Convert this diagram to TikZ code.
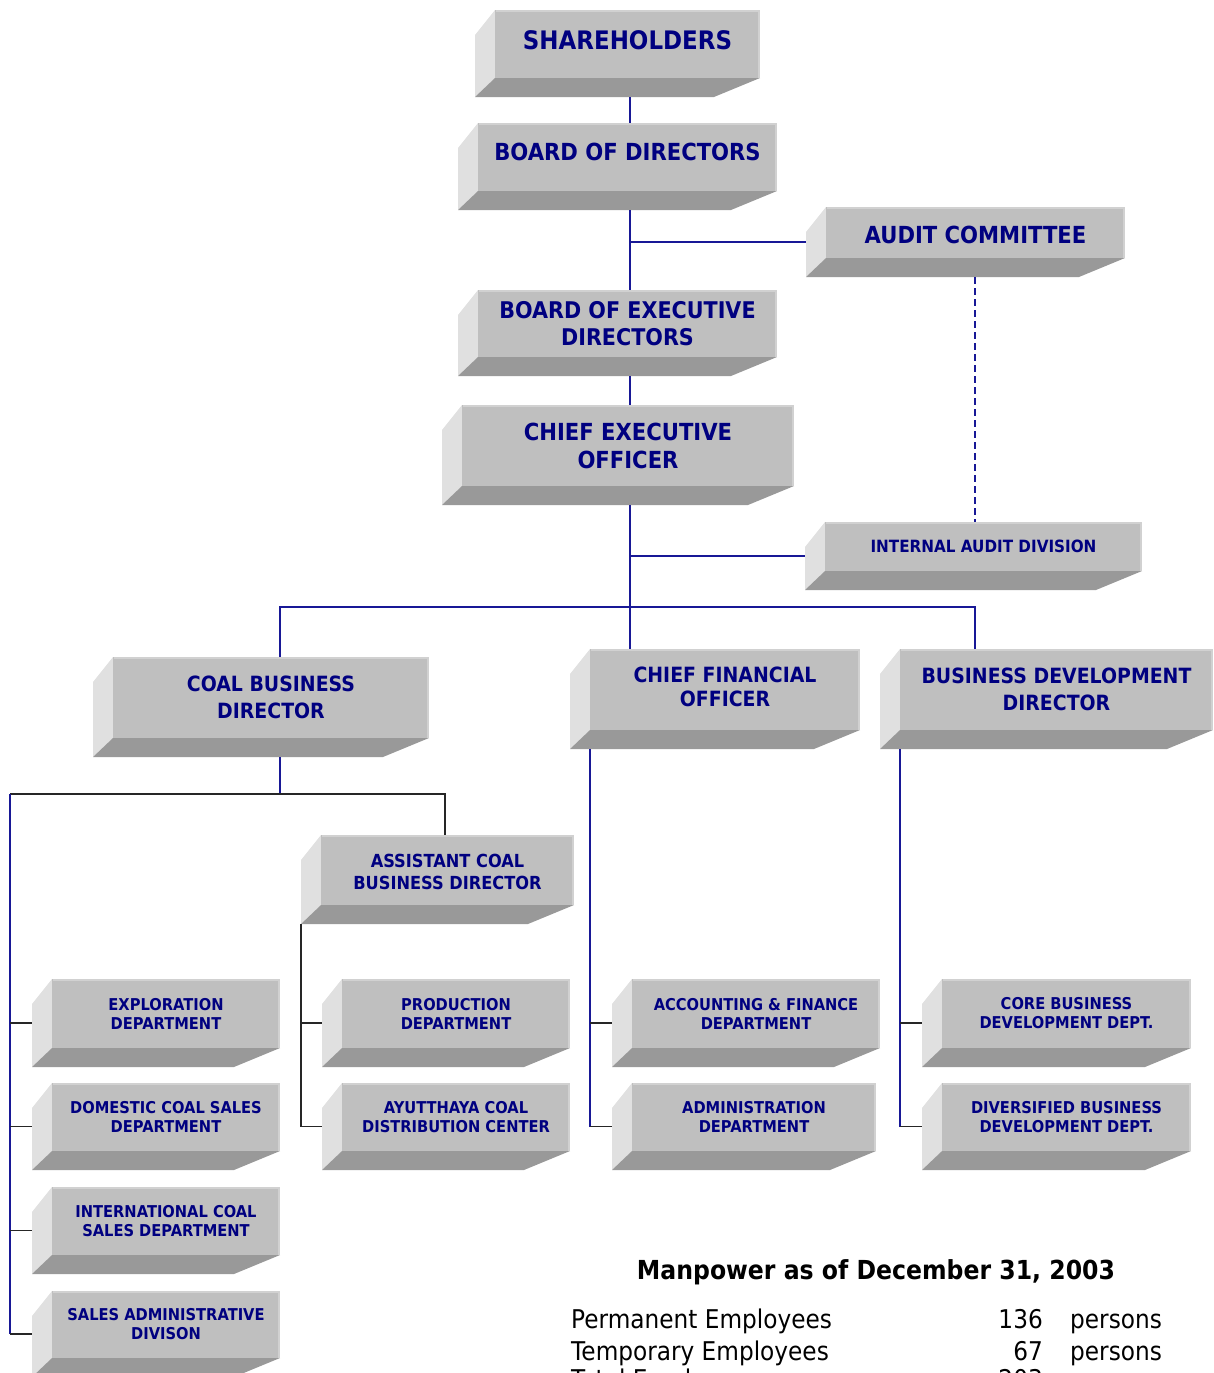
\documentclass[tikz,border=0pt]{standalone}
\usepackage{fontspec}
\setmainfont{DejaVu Sans}[FakeStretch=0.9]
\usetikzlibrary{positioning}

\definecolor{boxnavy}{RGB}{0,0,128}
\definecolor{linenavy}{RGB}{24,24,150}

\tikzset{
	frontface/.style = {fill = black!25},
	sideface/.style = {fill = black!12},
	baseface/.style = {fill = black!40},
	rimline/.style = {draw = black!18, line width = 1.5pt},
	boxarea/.style = {inner sep = 0, outer sep = 0},
	boxtext/.style = {text = boxnavy, align = center, inner sep = 0, font = \bfseries},
	blueline/.style = {draw = linenavy, line width = 1.8pt},
	blackline/.style = {draw = black!85, line width = 1.8pt},
	countline/.style = {font = \fontsize{25.8}{30}\selectfont, inner sep = 0},
}

% 3d box: name, left, top, right, bottom of the front face, text
\newcommand{\orgbox}[7][]{%
	\fill[sideface] (#3,#4) -- (#3-20,#4+25) -- (#3-20,#6+19) -- (#3,#6) -- cycle;
	\fill[baseface] (#3,#6) -- (#3-20,#6+19) -- (#5-46,#6+19) -- (#5,#6) -- cycle;
	\fill[frontface] (#3,#4) rectangle (#5,#6);
	\draw[rimline] (#3+1,#4+1) -- (#5-1,#4+1) -- (#5-1,#6);
	\node[boxarea, minimum width = {(#5-#3+20)*1pt}, minimum height = {(#6+19-#4)*1pt}] (#2) at ({(#3-20+#5)/2},{(#4+#6+19)/2}) {};
	\node[boxtext, #1] (#2-txt) at ({(#3+#5)/2},{(#4+#6)/2}) {#7};
}

\newcommand{\bigfont}{\fontsize{23.5}{28}\selectfont}
\newcommand{\midfont}{\fontsize{21}{27}\selectfont}
\newcommand{\smallfont}{\fontsize{16.3}{19}\selectfont}

\begin{document}
\begin{tikzpicture}[x = 1pt, y = -1pt]
	\useasboundingbox (0,0) rectangle (1213,1373);
	
	\coordinate (trunk) at (630,0);
	\coordinate (cbdx) at (280,607);
	\coordinate (auditx) at (975,607);
	\coordinate (salesbus) at (10,794);
	\coordinate (asstx) at (445,794);
	\coordinate (finx) at (590,0);
	\coordinate (devx) at (900,0);
	
	\orgbox[font = \fontsize{25.5}{30}\selectfont\bfseries, yshift = 4pt]{sh}{495}{10}{760}{78}{SHAREHOLDERS}
	\orgbox[font = \bigfont\bfseries, yshift = 5pt]{bod}{478}{123}{777}{191}{BOARD OF DIRECTORS}
	\orgbox[font = \bigfont\bfseries, yshift = -2pt]{ac}{826}{207}{1125}{258}{AUDIT COMMITTEE}
	\orgbox[font = \fontsize{23}{27}\selectfont\bfseries]{bed}{478}{290}{777}{357}{BOARD OF EXECUTIVE\\DIRECTORS}
	\orgbox[font = \bigfont\bfseries]{ceo}{462}{405}{794}{486}{CHIEF EXECUTIVE\\OFFICER}
	\orgbox[font = \fontsize{16.9}{20}\selectfont\bfseries]{iad}{825}{522}{1142}{571}{INTERNAL AUDIT DIVISION}
	
	\orgbox[font = \midfont\bfseries]{cbd}{113}{657}{429}{738}{COAL BUSINESS\\DIRECTOR}
	\orgbox[font = \fontsize{21}{24}\selectfont\bfseries, yshift = 3pt]{cfo}{590}{649}{860}{730}{CHIEF FINANCIAL\\OFFICER}
	\orgbox[font = \midfont\bfseries]{bdd}{900}{649}{1213}{730}{BUSINESS DEVELOPMENT\\DIRECTOR}
	\orgbox[font = \fontsize{18}{22}\selectfont\bfseries, yshift = -2pt]{asst}{321}{835}{574}{905}{ASSISTANT COAL\\BUSINESS DIRECTOR}
	
	\orgbox[font = \smallfont\bfseries]{exp}{52}{979}{280}{1048}{EXPLORATION\\DEPARTMENT}
	\orgbox[font = \smallfont\bfseries]{dom}{52}{1083}{280}{1151}{DOMESTIC COAL SALES\\DEPARTMENT}
	\orgbox[font = \smallfont\bfseries]{int}{52}{1187}{280}{1255}{INTERNATIONAL COAL\\SALES DEPARTMENT}
	\orgbox[font = \smallfont\bfseries]{sad}{52}{1291}{280}{1358}{SALES ADMINISTRATIVE\\DIVISON}
	\orgbox[font = \smallfont\bfseries]{prod}{342}{979}{570}{1048}{PRODUCTION\\DEPARTMENT}
	\orgbox[font = \smallfont\bfseries]{ayu}{342}{1083}{570}{1151}{AYUTTHAYA COAL\\DISTRIBUTION CENTER}
	\orgbox[font = \smallfont\bfseries]{acc}{632}{979}{880}{1048}{ACCOUNTING \& FINANCE\\DEPARTMENT}
	\orgbox[font = \smallfont\bfseries]{adm}{632}{1083}{876}{1151}{ADMINISTRATION\\DEPARTMENT}
	\orgbox[font = \smallfont\bfseries]{core}{942}{979}{1191}{1048}{CORE BUSINESS\\DEVELOPMENT DEPT.}
	\orgbox[font = \smallfont\bfseries]{div}{942}{1083}{1191}{1151}{DIVERSIFIED BUSINESS\\DEVELOPMENT DEPT.}
	
	% top of the chart
	\draw[blueline] (sh.south -| trunk) -- (bod.north -| trunk);
	\draw[blueline] (bod.south -| trunk) -- (bed.north -| trunk);
	\draw[blueline] (ac.west -| trunk) -- (ac.west);
	\draw[blueline] (bed.south -| trunk) -- (ceo.north -| trunk);
	\draw[blueline] (ceo.south -| trunk) -- (cfo.north -| trunk);
	\draw[blueline] (iad.west -| trunk) -- (iad.west);
	\draw[blueline] (cbd.north -| cbdx) -- (cbdx) -- (auditx) -- (bdd.north -| auditx);
	\draw[blueline, line width = 1.6pt, dash pattern = on 7pt off 4pt] (ac.south -| auditx) -- (iad.north -| auditx);
	
	% coal business
	\draw[blueline] (cbd.south -| cbdx) -- (cbdx |- salesbus);
	\draw[blackline] (salesbus) -- (asstx) -- (asst.north -| asstx);
	\draw[blueline] (salesbus) -- (salesbus |- sad.west);
	\foreach \dept in {exp, dom, int, sad}
		\draw[blackline] (salesbus |- \dept.west) -- (\dept.west);
	\draw[blackline] (asst.south west) |- (ayu.west);
	\draw[blackline] (asst.south west |- prod.west) -- (prod.west);
	
	% finance and development
	\draw[blueline] (cfo.south -| finx) -- (finx |- adm.west);
	\draw[blackline] (finx |- acc.west) -- (acc.west);
	\draw[blackline] (finx |- adm.west) -- (adm.west);
	\draw[blueline] (bdd.south -| devx) -- (devx |- div.west);
	\draw[blackline] (devx |- core.west) -- (core.west);
	\draw[blackline] (devx |- div.west) -- (div.west);
	
	% manpower
	\node[anchor = base, font = \fontsize{26.2}{30}\selectfont\bfseries] (mptitle) at (876,1279) {Manpower as of December 31, 2003};
	\node[countline, anchor = base west] (perm) at (571,1328) {Permanent Employees};
	\node[countline, anchor = base east] (permnum) at (1043,1328) {136};
	\node[countline, anchor = base west] (permunit) at (1070,1328) {persons};
	\node[countline, anchor = base west] (temp) at (571,1360) {Temporary Employees};
	\node[countline, anchor = base east] (tempnum) at (1043,1360) {67};
	\node[countline, anchor = base west] (tempunit) at (1070,1360) {persons};
	\node[countline, anchor = base west] (total) at (571,1388) {Total Employees};
	\node[countline, anchor = base east] (totalnum) at (1043,1388) {203};
	\node[countline, anchor = base west] (totalunit) at (1070,1388) {persons};
\end{tikzpicture}
\end{document}
